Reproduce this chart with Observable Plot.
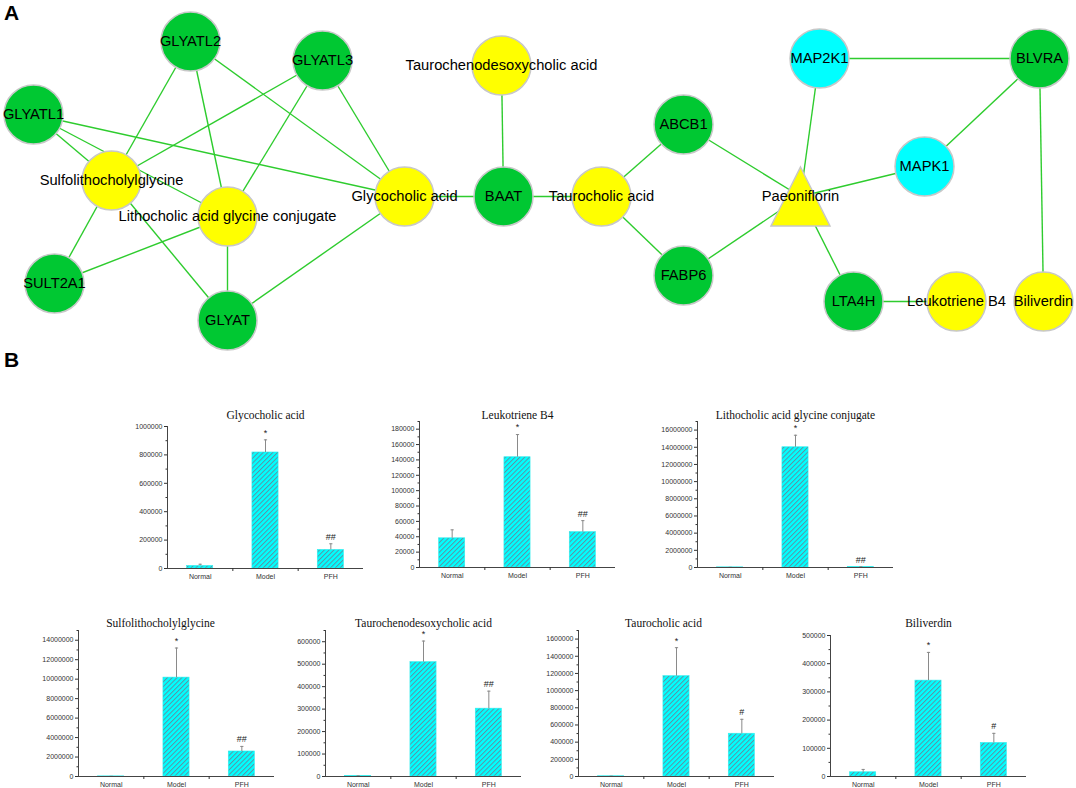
<!DOCTYPE html>
<html><head><meta charset="utf-8">
<script src="https://cdn.jsdelivr.net/npm/d3@7"></script>
<script src="https://cdn.jsdelivr.net/npm/@observablehq/plot@0.6"></script>
<style>
html,body{margin:0;padding:0;background:#fff;}
#page{position:relative;width:1076px;height:788px;overflow:hidden;font-family:"Liberation Sans",Arial,sans-serif;}
.panel-label{position:absolute;font-weight:bold;font-size:21px;line-height:1;color:#000;}
.chart{position:absolute;}
.chart svg{overflow:visible;}
</style></head><body>
<div id="page">
<svg width="0" height="0" style="position:absolute">
  <defs>
    <pattern id="hatch" patternUnits="userSpaceOnUse" width="3.4" height="3.4" patternTransform="rotate(45)">
      <rect width="3.4" height="3.4" fill="#00ffff"></rect>
      <line x1="0.5" y1="0" x2="0.5" y2="3.4" stroke="#5f8ea0" stroke-width="0.95"></line>
    </pattern>
  </defs>
</svg>
<div class="panel-label" style="left:4px;top:2px;">A</div>
<div class="panel-label" style="left:4px;top:349px;">B</div>
</div>
<script>
// ---------- Panel A: network ----------
const nodeNames = ["GLYATL1","GLYATL2","GLYATL3","Sulfolithocholylglycine","Lithocholic acid glycine conjugate","SULT2A1","GLYAT","Glycocholic acid","BAAT","Taurochenodesoxycholic acid","Taurocholic acid","ABCB1","FABP6","Paeoniflorin","MAP2K1","BLVRA","MAPK1","LTA4H","Leukotriene B4","Biliverdin"];
const nodeKinds = ["target","target","target","metabolite","metabolite","target","target","metabolite","target","metabolite","metabolite","target","target","compound","kinase","target","kinase","target","metabolite","metabolite"];
const nodeX = [33,190,322,111,227,54,227,404,503,501,601,683,683,800,819,1039,924,853,956,1043];
const nodeY = [114,41,60,180,216,283,320,196,196,65,196,124,275,196,58,58,166,301,301,301];
const edgeSource = ["GLYATL1","GLYATL1","GLYATL1","GLYATL2","GLYATL2","GLYATL2","GLYATL3","GLYATL3","GLYATL3","Sulfolithocholylglycine","Sulfolithocholylglycine","Lithocholic acid glycine conjugate","Lithocholic acid glycine conjugate","GLYAT","Glycocholic acid","BAAT","BAAT","Taurocholic acid","Taurocholic acid","ABCB1","FABP6","Paeoniflorin","Paeoniflorin","Paeoniflorin","MAP2K1","MAPK1","BLVRA","LTA4H"];
const edgeTarget = ["Sulfolithocholylglycine","Lithocholic acid glycine conjugate","Glycocholic acid","Sulfolithocholylglycine","Lithocholic acid glycine conjugate","Glycocholic acid","Sulfolithocholylglycine","Lithocholic acid glycine conjugate","Glycocholic acid","SULT2A1","GLYAT","SULT2A1","GLYAT","Glycocholic acid","BAAT","Taurochenodesoxycholic acid","Taurocholic acid","ABCB1","FABP6","Paeoniflorin","Paeoniflorin","MAP2K1","MAPK1","LTA4H","BLVRA","BLVRA","Biliverdin","Leukotriene B4"];
const kindNames = ["target","metabolite","kinase","compound"];
const kindColors = ["#00c832","#ffff00","#00ffff","#ffff00"];

// ---------- Panel B: bar charts ----------
const groups = ["Normal","Model","PFH"];
const chartTitles = ["Glycocholic acid","Leukotriene B4","Lithocholic acid glycine conjugate","Sulfolithocholylglycine","Taurochenodesoxycholic acid","Taurocholic acid","Biliverdin"];
const glycocholicMean = [18000, 817000, 131000];
const glycocholicSD = [12000, 89000, 43000];
const glycocholicSig = ["", "*", "##"];
const leukotrieneMean = [38000, 143500, 46000];
const leukotrieneSD = [11000, 29500, 15000];
const leukotrieneSig = ["", "*", "##"];
const lithocholicMean = [20000, 14000000, 60000];
const lithocholicSD = [5000, 1400000, 20000];
const lithocholicSig = ["", "*", "##"];
const sulfoMean = [15000, 10160000, 2570000];
const sulfoSD = [5000, 3040000, 520000];
const sulfoSig = ["", "*", "##"];
const taurochenoMean = [2000, 509000, 302000];
const taurochenoSD = [1000, 94000, 78000];
const taurochenoSig = ["", "*", "##"];
const taurocholicMean = [3000, 1168000, 498000];
const taurocholicSD = [1000, 332000, 168000];
const taurocholicSig = ["", "*", "#"];
const biliverdinMean = [15000, 340000, 119000];
const biliverdinSD = [10000, 100000, 34000];
const biliverdinSig = ["", "*", "#"];

const glycocholicTicks = [0,200000,400000,600000,800000,1000000];
const leukotrieneTicks = [0,20000,40000,60000,80000,100000,120000,140000,160000,180000];
const lithocholicTicks = [0,2000000,4000000,6000000,8000000,10000000,12000000,14000000,16000000];
const sulfoTicks = [0,2000000,4000000,6000000,8000000,10000000,12000000,14000000];
const taurochenoTicks = [0,100000,200000,300000,400000,500000,600000];
const taurocholicTicks = [0,200000,400000,600000,800000,1000000,1200000,1400000,1600000];
const biliverdinTicks = [0,100000,200000,300000,400000,500000];
const yMax = [1000000, 190000, 17000000, 15000000, 650000, 1700000, 500000];

const allMeans = [glycocholicMean, leukotrieneMean, lithocholicMean, sulfoMean, taurochenoMean, taurocholicMean, biliverdinMean];
const allSD = [glycocholicSD, leukotrieneSD, lithocholicSD, sulfoSD, taurochenoSD, taurocholicSD, biliverdinSD];
const allSig = [glycocholicSig, leukotrieneSig, lithocholicSig, sulfoSig, taurochenoSig, taurocholicSig, biliverdinSig];
const allTicks = [glycocholicTicks, leukotrieneTicks, lithocholicTicks, sulfoTicks, taurochenoTicks, taurocholicTicks, biliverdinTicks];

// layout (pixels on the page)
const chartLeft = [167,419,697,78,325,578,830];
const chartZero = [568,567,567,776,776,776,776];
const chartTop = [426,421,421,630,630,630,635];
const titleY = [410,410,410,618,618,618,618];
const titleDx = [0,0,0,-16,0,-13,0];

const page = document.getElementById("page");

// network
const nodes = nodeNames.map((name, i) => ({name, kind: nodeKinds[i], x: nodeX[i], y: nodeY[i]}));
const byName = new Map(nodes.map(n => [n.name, n]));
const edges = edgeSource.map((s, i) => ({s: byName.get(s), t: byName.get(edgeTarget[i])}));
const triSymbol = {draw(ctx, size) { const r = Math.sqrt(size / Math.PI); ctx.moveTo(0, -r); ctx.lineTo(r, r); ctx.lineTo(-r, r); ctx.closePath(); }};
const net = Plot.plot({
  width: 1076, height: 345, margin: 0,
  x: {domain: [0, 1076], range: [0, 1076], axis: null},
  y: {domain: [0, 345], range: [0, 345], axis: null},
  color: {domain: kindNames, range: kindColors},
  style: {background: "transparent", fontFamily: "Liberation Sans, Arial, sans-serif"},
  marks: [
    Plot.link(edges, {x1: d => d.s.x, y1: d => d.s.y, x2: d => d.t.x, y2: d => d.t.y, stroke: "#2ecc2e", strokeWidth: 1.4}),
    Plot.dot(nodes.filter(n => n.kind !== "compound"), {x: "x", y: "y", r: 29.5, fill: "kind", stroke: "#c8c8c8", strokeWidth: 1.5}),
    Plot.dot(nodes.filter(n => n.kind === "compound"), {x: "x", y: "y", r: 29.5, symbol: triSymbol, fill: "kind", stroke: "#c8c8c8", strokeWidth: 1.5}),
    Plot.text(nodes, {x: "x", y: "y", text: "name", fontSize: 14.7, fill: "#000"})
  ]
});
const netDiv = document.createElement("div");
netDiv.className = "chart";
netDiv.style.left = "0px"; netDiv.style.top = "0px";
netDiv.appendChild(net);
page.appendChild(netDiv);

// bar charts
const capSymbol = {draw(ctx, size) { const r = Math.sqrt(size / Math.PI); ctx.moveTo(-r, 0); ctx.lineTo(r, 0); }};
const ml = 50, mr = 20, mt = 30, mb = 20, aw = 196;
chartTitles.forEach((title, k) => {
  const rows = groups.map((g, i) => ({group: g, i, mean: allMeans[k][i], sd: allSD[k][i], sig: allSig[k][i]}));
  const ticks = allTicks[k];
  const step = ticks[1] - ticks[0];
  const ymax = yMax[k];
  const minor = d3.range(step / 2, ymax + 1, step);
  const ph = chartZero[k] - chartTop[k];
  const p = Plot.plot({
    width: ml + aw + mr, height: mt + ph + mb,
    marginLeft: ml, marginRight: mr, marginTop: mt, marginBottom: mb,
    x: {domain: [0, 3], label: null}, y: {domain: [0, ymax], label: null},
    style: {background: "transparent", fontFamily: "Liberation Sans, Arial, sans-serif", color: "#333"},
    marks: [
      Plot.rect(rows, {x1: d => d.i + 0.3, x2: d => d.i + 0.7, y1: 0, y2: "mean", fill: "url(#hatch)", stroke: "#33eeee", strokeWidth: 0.6}),
      Plot.ruleX(rows, {x: d => d.i + 0.5, y1: "mean", y2: d => d.mean + d.sd, stroke: "#8a8a8a", strokeWidth: 1}),
      Plot.dot(rows, {x: d => d.i + 0.5, y: d => d.mean + d.sd, r: 1.6, symbol: capSymbol, fill: "none", stroke: "#8a8a8a", strokeWidth: 1}),
      Plot.text(rows, {x: d => d.i + 0.5, y: d => d.mean + d.sd, text: "sig", dy: -7, fontSize: 9, fill: "#222"}),
      Plot.ruleX([0], {y1: 0, y2: ymax, stroke: "#444", strokeWidth: 1}),
      Plot.ruleY([0], {x1: 0, x2: 3, stroke: "#444", strokeWidth: 1}),
      Plot.axisY({ticks: ticks, tickSize: 3, tickPadding: 2, tickFormat: d => String(d), fontSize: 7, color: "#333", label: null}),
      Plot.axisY({ticks: minor, tickSize: 1.5, tickFormat: () => "", color: "#333", label: null}),
      Plot.axisX({ticks: [0.5, 1.5, 2.5], tickSize: 0, tickPadding: 6, tickFormat: d => groups[Math.floor(d)], fontSize: 7, color: "#333", label: null}),
      Plot.axisX({ticks: [1, 2], tickSize: 3, tickFormat: () => "", color: "#333", label: null}),
      Plot.text([title], {frameAnchor: "top", dy: titleY[k] - chartTop[k], dx: titleDx[k], fontSize: 11.5, fontFamily: "Liberation Serif, Times New Roman, serif", fill: "#111"})
    ]
  });
  const div = document.createElement("div");
  div.className = "chart";
  div.style.left = (chartLeft[k] - ml) + "px";
  div.style.top = (chartTop[k] - mt) + "px";
  div.appendChild(p);
  page.appendChild(div);
});
</script>
</body></html>
